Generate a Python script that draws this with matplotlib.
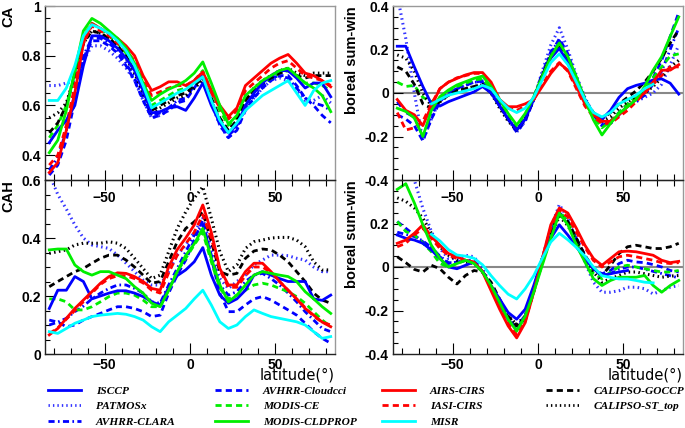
import numpy as np
import matplotlib
matplotlib.use('Agg')
import matplotlib.pyplot as plt
from matplotlib.lines import Line2D
from matplotlib.ticker import MultipleLocator

nan = np.nan

# tâm các dải vĩ độ 5°
lat = [-82.5, -77.5, -72.5, -67.5, -62.5, -57.5, -52.5, -47.5, -42.5, -37.5,
       -32.5, -27.5, -22.5, -17.5, -12.5, -7.5, -2.5, 2.5, 7.5, 12.5,
       17.5, 22.5, 27.5, 32.5, 37.5, 42.5, 47.5, 52.5, 57.5, 62.5,
       67.5, 72.5, 77.5, 82.5]

# CA (trên trái)
ca_isccp = [0.45, 0.50, 0.54, 0.60, 0.76, 0.88, 0.88, 0.86, 0.83, 0.79, 0.74, 0.66, 0.57, 0.575, 0.59, 0.595, 0.58, 0.63, 0.69, 0.60, 0.53, 0.49, 0.52, 0.60, 0.65, 0.69, 0.72, 0.74, 0.74, 0.71, 0.67, 0.69, 0.69, 0.635]
ca_patmos = [0.68, 0.68, 0.69, 0.70, 0.78, 0.84, 0.84, 0.82, 0.79, 0.75, 0.70, 0.62, 0.55, 0.56, 0.58, 0.61, 0.63, 0.67, 0.71, 0.61, 0.52, 0.47, 0.51, 0.59, 0.63, 0.67, 0.70, 0.71, 0.70, 0.66, 0.62, 0.62, 0.64, 0.61]
ca_clara = [0.34, 0.39, 0.50, 0.65, 0.80, 0.87, 0.87, 0.85, 0.82, 0.77, 0.71, 0.63, 0.56, 0.57, 0.59, 0.62, 0.63, 0.68, 0.72, 0.62, 0.53, 0.48, 0.51, 0.59, 0.64, 0.68, 0.71, 0.72, 0.71, 0.67, 0.63, 0.61, 0.60, 0.58]
ca_cloudcci = [0.32, 0.36, 0.46, 0.62, 0.79, 0.86, 0.86, 0.84, 0.81, 0.76, 0.70, 0.62, 0.55, 0.56, 0.58, 0.61, 0.62, 0.67, 0.72, 0.62, 0.52, 0.47, 0.50, 0.58, 0.63, 0.67, 0.70, 0.72, 0.72, 0.68, 0.63, 0.60, 0.56, 0.53]
ca_modis_ce = [0.47, 0.52, 0.60, 0.73, 0.88, 0.93, 0.91, 0.88, 0.85, 0.81, 0.75, 0.67, 0.60, 0.62, 0.64, 0.66, 0.67, 0.70, 0.74, 0.66, 0.58, 0.52, 0.55, 0.62, 0.66, 0.69, 0.71, 0.73, 0.74, 0.72, 0.69, 0.69, 0.68, 0.66]
ca_cldprop = [0.41, 0.46, 0.58, 0.74, 0.90, 0.95, 0.93, 0.90, 0.87, 0.83, 0.77, 0.69, 0.62, 0.645, 0.665, 0.68, 0.70, 0.73, 0.775, 0.69, 0.60, 0.525, 0.56, 0.64, 0.67, 0.70, 0.72, 0.74, 0.75, 0.72, 0.69, 0.67, 0.64, 0.575]
ca_airs = [0.33, 0.37, 0.50, 0.65, 0.85, 0.93, 0.91, 0.89, 0.87, 0.84, 0.80, 0.72, 0.66, 0.675, 0.695, 0.695, 0.68, 0.70, 0.735, 0.66, 0.60, 0.555, 0.59, 0.68, 0.71, 0.74, 0.77, 0.79, 0.805, 0.77, 0.73, 0.72, 0.70, 0.675]
ca_iasi = [0.36, 0.40, 0.52, 0.68, 0.85, 0.92, 0.90, 0.88, 0.85, 0.82, 0.78, 0.70, 0.64, 0.655, 0.67, 0.68, 0.68, 0.70, 0.73, 0.65, 0.59, 0.545, 0.58, 0.66, 0.69, 0.72, 0.75, 0.77, 0.78, 0.75, 0.72, 0.71, 0.70, 0.68]
ca_misr = [0.62, 0.62, 0.67, 0.76, 0.88, 0.925, 0.91, 0.89, 0.86, 0.82, 0.76, 0.68, 0.59, 0.61, 0.63, 0.65, 0.665, 0.69, 0.715, 0.62, 0.54, 0.49, 0.53, 0.58, 0.61, 0.64, 0.66, 0.68, 0.70, 0.65, 0.60, 0.66, 0.69, 0.70]
ca_goccp = [0.49, 0.53, 0.60, 0.72, 0.85, 0.90, 0.89, 0.87, 0.84, 0.80, 0.74, 0.66, 0.58, 0.60, 0.62, 0.64, 0.65, 0.68, 0.71, 0.63, 0.55, 0.50, 0.54, 0.62, 0.66, 0.69, 0.71, 0.73, 0.74, 0.72, 0.71, 0.72, 0.72, 0.72]
ca_sttop = [0.55, 0.57, 0.61, 0.72, 0.85, 0.90, 0.89, 0.87, 0.84, 0.79, 0.73, 0.65, 0.57, 0.59, 0.61, 0.63, 0.64, 0.67, 0.70, 0.62, 0.54, 0.50, 0.54, 0.62, 0.67, 0.70, 0.72, 0.74, 0.75, 0.73, 0.72, 0.73, 0.73, 0.73]

# CA, hè bắc - đông bắc (trên phải)
sw_isccp = [0.215, 0.215, 0.12, 0.03, -0.05, -0.06, -0.04, -0.025, -0.01, 0.005, 0.03, 0.0, -0.06, -0.12, -0.17, -0.12, -0.03, 0.075, 0.16, 0.205, 0.14, 0.045, -0.03, -0.095, -0.12, -0.08, -0.02, 0.02, 0.035, 0.045, 0.06, 0.065, 0.045, -0.005]
sw_patmos = [0.45, 0.25, 0.0, -0.22, -0.12, -0.03, 0.0, 0.02, 0.035, 0.05, 0.055, 0.02, -0.05, -0.12, -0.18, -0.13, -0.03, 0.10, 0.22, 0.30, 0.20, 0.08, -0.02, -0.10, -0.15, -0.14, -0.10, -0.06, -0.04, -0.02, 0.0, 0.04, 0.13, 0.22]
sw_clara = [-0.04, -0.09, -0.11, -0.20, -0.10, -0.03, 0.0, 0.02, 0.035, 0.05, 0.05, 0.01, -0.06, -0.12, -0.17, -0.12, -0.02, 0.09, 0.19, 0.24, 0.17, 0.06, -0.03, -0.10, -0.14, -0.14, -0.10, -0.06, -0.04, -0.01, 0.04, 0.10, 0.20, 0.30]
sw_cloudcci = [-0.10, -0.12, -0.15, -0.22, -0.12, -0.04, 0.0, 0.02, 0.04, 0.05, 0.055, 0.02, -0.05, -0.12, -0.18, -0.13, -0.03, 0.08, 0.18, 0.25, 0.18, 0.07, -0.03, -0.10, -0.15, -0.13, -0.09, -0.05, -0.02, 0.02, 0.07, 0.15, 0.26, 0.37]
sw_modis_ce = [0.05, 0.03, 0.035, -0.02, -0.04, -0.02, 0.01, 0.03, 0.045, 0.06, 0.065, 0.02, -0.04, -0.11, -0.16, -0.11, -0.02, 0.08, 0.17, 0.23, 0.16, 0.06, -0.03, -0.11, -0.16, -0.13, -0.09, -0.05, -0.02, 0.02, 0.07, 0.12, 0.17, 0.18]
sw_cldprop = [-0.07, -0.085, -0.115, -0.20, -0.08, -0.017, 0.014, 0.037, 0.052, 0.067, 0.078, 0.03, -0.03, -0.094, -0.147, -0.094, -0.017, 0.075, 0.167, 0.23, 0.167, 0.075, -0.03, -0.124, -0.193, -0.14, -0.094, -0.063, -0.03, 0.03, 0.105, 0.167, 0.26, 0.35]
sw_airs = [-0.03, -0.08, -0.10, -0.15, -0.06, 0.02, 0.05, 0.067, 0.083, 0.094, 0.094, 0.05, -0.03, -0.063, -0.063, -0.05, -0.03, 0.03, 0.09, 0.137, 0.105, 0.03, -0.05, -0.10, -0.13, -0.13, -0.10, -0.063, -0.03, 0.0, 0.05, 0.105, 0.105, 0.13]
sw_iasi = [-0.09, -0.17, -0.16, -0.13, -0.05, 0.02, 0.05, 0.07, 0.08, 0.09, 0.09, 0.04, -0.03, -0.07, -0.08, -0.06, -0.03, 0.04, 0.10, 0.14, 0.10, 0.02, -0.06, -0.11, -0.14, -0.14, -0.11, -0.08, -0.04, 0.0, 0.04, 0.08, 0.12, 0.12]
sw_misr = [nan, nan, nan, nan, -0.05, -0.03, -0.01, 0.0, 0.01, 0.02, 0.035, 0.02, -0.03, -0.07, -0.09, -0.07, -0.02, 0.06, 0.14, 0.18, 0.13, 0.05, -0.03, -0.09, -0.11, -0.09, -0.05, -0.03, -0.01, 0.02, 0.04, nan, nan, nan]
sw_goccp = [0.12, 0.10, 0.04, -0.05, -0.07, -0.04, -0.01, 0.01, 0.02, 0.03, 0.04, 0.0, -0.06, -0.12, -0.17, -0.12, -0.03, 0.08, 0.17, 0.22, 0.16, 0.06, -0.03, -0.09, -0.12, -0.09, -0.05, -0.02, 0.01, 0.05, 0.10, 0.16, 0.23, 0.29]
sw_sttop = [0.175, 0.16, 0.10, 0.0, -0.06, -0.04, -0.01, 0.01, 0.02, 0.03, 0.035, 0.0, -0.07, -0.13, -0.17, -0.12, -0.03, 0.08, 0.17, 0.21, 0.15, 0.05, -0.04, -0.10, -0.13, -0.11, -0.07, -0.04, -0.02, 0.0, 0.03, 0.07, 0.12, 0.15]

# CAH (dưới trái)
cah_isccp = [0.157, 0.22, 0.22, 0.267, 0.25, 0.19, 0.20, 0.21, 0.218, 0.218, 0.21, 0.198, 0.18, 0.169, 0.23, 0.27, 0.29, 0.318, 0.367, 0.272, 0.203, 0.175, 0.19, 0.22, 0.272, 0.284, 0.272, 0.26, 0.25, 0.25, 0.25, 0.19, 0.185, 0.203]
cah_patmos = [0.62, 0.55, 0.50, 0.445, 0.40, 0.376, 0.37, 0.364, 0.341, 0.313, 0.284, 0.255, 0.238, 0.238, 0.284, 0.341, 0.376, 0.42, 0.468, 0.364, 0.26, 0.226, 0.25, 0.272, 0.307, 0.324, 0.341, 0.341, 0.339, 0.33, 0.324, 0.30, 0.284, 0.284]
cah_clara = [0.10, 0.11, 0.123, 0.146, 0.165, 0.19, 0.21, 0.226, 0.238, 0.238, 0.226, 0.21, 0.18, 0.175, 0.238, 0.295, 0.353, 0.41, 0.445, 0.341, 0.238, 0.203, 0.215, 0.25, 0.272, 0.278, 0.26, 0.238, 0.21, 0.18, 0.146, 0.117, 0.088, 0.077]
cah_cloudcci = [0.117, 0.11, 0.094, 0.10, 0.117, 0.129, 0.14, 0.152, 0.163, 0.163, 0.157, 0.146, 0.129, 0.134, 0.21, 0.272, 0.324, 0.393, 0.462, 0.33, 0.21, 0.146, 0.146, 0.169, 0.19, 0.198, 0.186, 0.169, 0.152, 0.134, 0.106, 0.077, 0.054, 0.037]
cah_modis_ce = [0.19, 0.19, 0.18, 0.152, 0.152, 0.163, 0.18, 0.198, 0.21, 0.21, 0.203, 0.186, 0.163, 0.163, 0.22, 0.284, 0.33, 0.376, 0.42, 0.318, 0.226, 0.19, 0.203, 0.22, 0.238, 0.244, 0.238, 0.226, 0.215, 0.198, 0.175, 0.146, 0.117, 0.094]
cah_cldprop = [0.359, 0.362, 0.362, 0.307, 0.284, 0.272, 0.284, 0.284, 0.272, 0.26, 0.232, 0.21, 0.175, 0.163, 0.22, 0.284, 0.34, 0.38, 0.433, 0.33, 0.238, 0.18, 0.203, 0.238, 0.272, 0.284, 0.278, 0.272, 0.267, 0.25, 0.215, 0.19, 0.163, 0.14]
cah_airs = [0.066, 0.088, 0.123, 0.157, 0.186, 0.215, 0.244, 0.267, 0.28, 0.278, 0.267, 0.25, 0.226, 0.22, 0.30, 0.36, 0.40, 0.445, 0.514, 0.42, 0.295, 0.238, 0.238, 0.284, 0.313, 0.313, 0.284, 0.25, 0.22, 0.19, 0.157, 0.134, 0.11, 0.094]
cah_iasi = [0.07, 0.09, 0.12, 0.15, 0.18, 0.21, 0.24, 0.26, 0.27, 0.27, 0.26, 0.245, 0.22, 0.21, 0.28, 0.34, 0.38, 0.42, 0.48, 0.40, 0.29, 0.23, 0.23, 0.27, 0.30, 0.30, 0.28, 0.25, 0.22, 0.19, 0.16, 0.13, 0.11, 0.10]
cah_misr = [0.077, 0.071, 0.088, 0.106, 0.117, 0.129, 0.134, 0.137, 0.14, 0.137, 0.129, 0.117, 0.094, 0.077, 0.111, 0.134, 0.157, 0.19, 0.22, 0.169, 0.111, 0.088, 0.10, 0.129, 0.152, 0.14, 0.129, 0.123, 0.117, 0.111, 0.10, 0.077, 0.054, 0.06]
cah_goccp = [0.232, 0.25, 0.267, 0.284, 0.295, 0.313, 0.33, 0.341, 0.341, 0.324, 0.30, 0.272, 0.244, 0.25, 0.318, 0.387, 0.433, 0.456, 0.49, 0.387, 0.284, 0.272, 0.278, 0.33, 0.355, 0.362, 0.359, 0.341, 0.318, 0.284, 0.25, 0.21, 0.186, 0.175]
cah_sttop = [0.347, 0.353, 0.359, 0.376, 0.382, 0.382, 0.382, 0.387, 0.382, 0.364, 0.33, 0.295, 0.26, 0.272, 0.353, 0.433, 0.49, 0.537, 0.577, 0.468, 0.353, 0.284, 0.307, 0.364, 0.387, 0.393, 0.40, 0.402, 0.402, 0.393, 0.37, 0.318, 0.29, 0.29]

# CAH, hè bắc - đông bắc (dưới phải)
bd_isccp = [0.147, 0.132, 0.124, 0.109, 0.078, 0.039, 0.0, -0.008, 0.008, 0.023, -0.023, -0.085, -0.147, -0.209, -0.24, -0.194, -0.085, 0.039, 0.132, 0.194, 0.147, 0.093, 0.039, -0.008, -0.039, -0.031, -0.023, -0.016, nan, nan, nan, nan, nan, nan]
bd_patmos = [0.55, 0.48, 0.40, 0.27, 0.163, 0.085, 0.039, 0.039, 0.054, 0.047, -0.008, -0.085, -0.171, -0.24, -0.279, -0.225, -0.10, 0.04, 0.178, 0.287, 0.225, 0.116, 0.023, -0.07, -0.116, -0.116, -0.109, -0.093, -0.093, -0.10, -0.124, -0.109, -0.093, -0.085]
bd_clara = [0.16, 0.15, 0.14, 0.12, 0.09, 0.05, 0.02, 0.02, 0.03, 0.03, -0.02, -0.09, -0.17, -0.24, -0.28, -0.22, -0.10, 0.04, 0.16, 0.25, 0.21, 0.13, 0.05, -0.01, -0.04, -0.03, -0.01, 0.0, 0.0, -0.01, -0.02, -0.03, -0.04, -0.05]
bd_cloudcci = [0.209, 0.178, 0.147, 0.116, 0.085, 0.047, 0.016, 0.023, 0.031, 0.023, -0.023, -0.093, -0.171, -0.24, -0.287, -0.225, -0.10, 0.039, 0.163, 0.248, 0.209, 0.132, 0.054, -0.008, -0.031, -0.016, 0.016, 0.031, 0.023, 0.02, 0.011, 0.0, -0.016, -0.023]
bd_modis_ce = [0.209, 0.163, 0.147, 0.11, 0.07, 0.016, 0.0, 0.016, 0.03, 0.02, -0.02, -0.09, -0.17, -0.245, -0.29, -0.23, -0.11, 0.02, 0.15, 0.256, 0.21, 0.12, 0.04, -0.03, -0.054, -0.023, 0.0, 0.008, 0.0, -0.008, -0.016, -0.023, -0.023, -0.016]
bd_cldprop = [0.357, 0.383, 0.295, 0.194, 0.10, 0.039, 0.0, 0.016, 0.031, 0.016, -0.023, -0.085, -0.163, -0.24, -0.295, -0.225, -0.116, 0.008, 0.13, 0.248, 0.194, 0.10, 0.023, -0.054, -0.085, -0.062, -0.047, -0.047, -0.047, -0.039, -0.085, -0.116, -0.085, -0.062]
bd_airs = [0.109, 0.124, 0.155, 0.194, 0.14, 0.10, 0.062, 0.047, 0.031, 0.023, -0.023, -0.109, -0.194, -0.271, -0.326, -0.256, -0.116, 0.039, 0.194, 0.271, 0.248, 0.178, 0.10, 0.039, 0.008, 0.039, 0.07, 0.073, 0.07, 0.062, 0.054, 0.031, 0.02, 0.026]
bd_iasi = [0.093, 0.109, 0.147, 0.178, 0.132, 0.085, 0.054, 0.039, 0.031, 0.02, -0.02, -0.10, -0.18, -0.26, -0.31, -0.25, -0.11, 0.04, 0.18, 0.26, 0.23, 0.16, 0.09, 0.03, 0.0, 0.023, 0.047, 0.054, 0.047, 0.039, 0.031, 0.02, 0.016, 0.02]
bd_misr = [nan, nan, nan, nan, 0.15, 0.12, 0.08, 0.055, 0.05, 0.04, 0.01, -0.04, -0.085, -0.125, -0.147, -0.10, -0.04, 0.04, 0.115, 0.155, 0.125, 0.09, 0.05, 0.0, -0.04, -0.048, -0.055, -0.055, -0.062, -0.07, -0.073, nan, nan, nan]
bd_goccp = [0.047, 0.02, -0.011, -0.023, 0.008, -0.008, -0.047, -0.078, -0.039, -0.016, -0.023, -0.07, -0.147, -0.225, -0.271, -0.24, -0.116, 0.023, 0.163, 0.24, 0.209, 0.132, 0.054, -0.008, -0.039, 0.008, 0.062, 0.093, 0.10, 0.093, 0.085, 0.085, 0.093, 0.109]
bd_sttop = [0.318, 0.302, 0.271, 0.225, 0.155, 0.093, 0.054, 0.031, 0.023, 0.016, -0.023, -0.085, -0.16, -0.225, -0.264, -0.225, -0.11, 0.02, 0.14, 0.233, 0.19, 0.12, 0.05, -0.023, -0.07, -0.054, -0.039, -0.023, -0.023, -0.031, -0.039, -0.047, -0.042, -0.039]

names = ['ISCCP', 'PATMOSx', 'AVHRR-CLARA', 'AVHRR-Cloudcci', 'MODIS-CE',
         'MODIS-CLDPROP', 'AIRS-CIRS', 'IASI-CIRS', 'MISR',
         'CALIPSO-GOCCP', 'CALIPSO-ST_top']

DOT = (0, (0.5, 1.1))
DASH = (0, (2.2, 1.5))
DASHDOT = (0, (2.2, 1.2, 0.6, 1.2))
style = {
    'ISCCP': ('#0000ff', '-'),
    'PATMOSx': ('#3333ff', DOT),
    'AVHRR-CLARA': ('#0000ff', DASHDOT),
    'AVHRR-Cloudcci': ('#0000ff', DASH),
    'MODIS-CE': ('#00ee00', DASH),
    'MODIS-CLDPROP': ('#00ee00', '-'),
    'AIRS-CIRS': ('#ff0000', '-'),
    'IASI-CIRS': ('#ff0000', DASH),
    'MISR': ('#00ffff', '-'),
    'CALIPSO-GOCCP': ('black', DASH),
    'CALIPSO-ST_top': ('black', DOT),
}

panels = {
    'ca': [ca_isccp, ca_patmos, ca_clara, ca_cloudcci, ca_modis_ce, ca_cldprop, ca_airs, ca_iasi, ca_misr, ca_goccp, ca_sttop],
    'sw': [sw_isccp, sw_patmos, sw_clara, sw_cloudcci, sw_modis_ce, sw_cldprop, sw_airs, sw_iasi, sw_misr, sw_goccp, sw_sttop],
    'cah': [cah_isccp, cah_patmos, cah_clara, cah_cloudcci, cah_modis_ce, cah_cldprop, cah_airs, cah_iasi, cah_misr, cah_goccp, cah_sttop],
    'bd': [bd_isccp, bd_patmos, bd_clara, bd_cloudcci, bd_modis_ce, bd_cldprop, bd_airs, bd_iasi, bd_misr, bd_goccp, bd_sttop],
}

# thứ tự vẽ: nét đứt/chấm trước, nét liền sau
draw_order = [1, 2, 3, 4, 9, 10, 7, 0, 6, 5, 8]

tickfont = {'family': 'Liberation Sans', 'weight': 'bold', 'size': 10}
fig = plt.figure(figsize=(6.85, 4.28), dpi=100)

def px(x0, y0, x1, y1):
    return [x0 / 685, 1 - y1 / 428, (x1 - x0) / 685, (y1 - y0) / 428]

def setup(ax, ylim, ylabel, top, zero, hide_top_label=False):
    ax.set_facecolor('none')
    ax.set_xlim(-85, 85)
    ax.set_ylim(*ylim)
    ax.xaxis.set_major_locator(MultipleLocator(50))
    ax.xaxis.set_minor_locator(MultipleLocator(10))
    ax.yaxis.set_major_locator(MultipleLocator(0.2))
    ax.yaxis.set_minor_locator(MultipleLocator(0.05))
    ax.tick_params(axis='y', which='major', direction='in', length=7, width=0.8, pad=3)
    ax.tick_params(axis='y', which='minor', direction='in', length=3.5, width=0.8)
    if top:
        ax.tick_params(axis='x', which='major', direction='inout', length=14, width=0.8, pad=1)
        ax.tick_params(axis='x', which='minor', direction='inout', length=8, width=0.8)
    else:
        ax.tick_params(axis='x', which='major', direction='in', length=8, width=0.8, pad=3)
        ax.tick_params(axis='x', which='minor', direction='in', length=4, width=0.8)
        ax.set_xlabel('latitude(°)', loc='right', labelpad=-3.5,
                      fontfamily='Liberation Sans Narrow', fontsize=10.5)

    def fmt(v, p):
        if hide_top_label and abs(v - ylim[1]) < 1e-6:
            return ''
        return '%g' % round(v, 2)
    ax.yaxis.set_major_formatter(plt.FuncFormatter(fmt))
    ax.set_ylabel(ylabel, loc='top', fontfamily='Liberation Sans', fontweight='bold', fontsize=10.5)
    for s in ['left', 'bottom']:
        ax.spines[s].set_color('#222222')
        ax.spines[s].set_linewidth(1.0)
    for s in ['top', 'right']:
        ax.spines[s].set_color('#999999')
        ax.spines[s].set_linewidth(1.0)
    if zero:
        ax.axhline(0, color='#888888', lw=1.5, zorder=1)
    for lab in ax.get_xticklabels() + ax.get_yticklabels():
        lab.set_fontproperties(tickfont)

def draw(ax, key):
    for k, i in enumerate(draw_order):
        c, ls = style[names[i]]
        lw = 2.2 if ls == DOT else 2.0
        ax.plot(lat, panels[key][i], color=c, linestyle=ls, lw=lw, zorder=2 + k * 0.1)

ax_cah = fig.add_axes(px(45, 180, 335, 354))
ax_bd = fig.add_axes(px(393, 180, 683, 354))
ax_ca = fig.add_axes(px(45, 6, 335, 180))
ax_sw = fig.add_axes(px(393, 6, 683, 180))

draw(ax_ca, 'ca')
draw(ax_sw, 'sw')
draw(ax_cah, 'cah')
draw(ax_bd, 'bd')

setup(ax_ca, (0.3, 1.0), 'CA', True, False)
setup(ax_sw, (-0.4, 0.4), 'boreal sum-win', True, True)
setup(ax_cah, (0.0, 0.6), 'CAH', False, False)
setup(ax_bd, (-0.4, 0.4), 'boreal sum-win', False, True, hide_top_label=True)

# chú giải: 4 cột
legfont = {'family': 'Liberation Serif', 'style': 'italic', 'weight': 'bold', 'size': 8.2}
cols = [(0.070, [0, 1, 2]), (0.314, [3, 4, 5]), (0.558, [6, 7, 8]), (0.797, [9, 10])]
for x, idx in cols:
    hs = []
    for i in idx:
        c, ls = style[names[i]]
        hs.append(Line2D([], [], color=c, linestyle=ls, lw=2.0))
    fig.legend(hs, [names[i] for i in idx], loc='upper left', bbox_to_anchor=(x, 0.099),
               frameon=False, prop=legfont, handlelength=2.9, handletextpad=1.3,
               labelspacing=0.5, borderpad=0, borderaxespad=0)

fig.savefig('out.png', dpi=100)
